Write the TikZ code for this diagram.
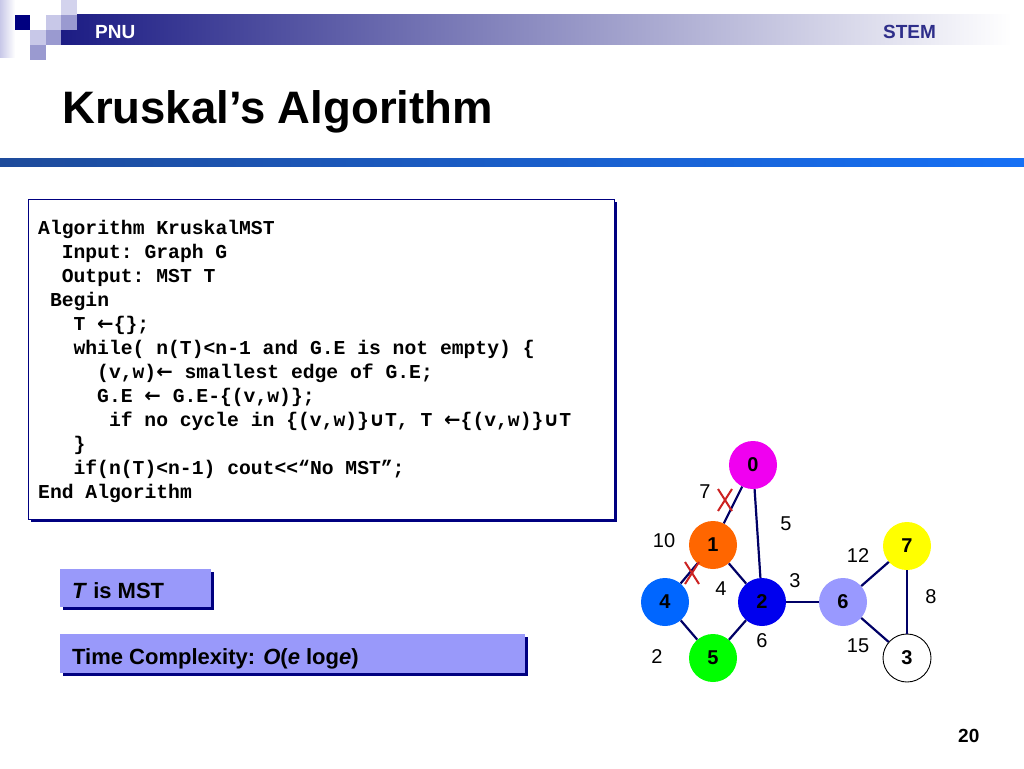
\documentclass[tikz,border=0pt]{standalone}
\usepackage{fontspec}
\setmainfont{Liberation Sans}
\setmonofont{Liberation Mono}
\newfontfamily\symf{DejaVu Sans}
\definecolor{navy}{RGB}{0,0,128}
\definecolor{hdrnavy}{RGB}{28,28,132}
\definecolor{stemc}{RGB}{46,46,138}
\definecolor{lavA}{RGB}{200,200,232}
\definecolor{lavB}{RGB}{154,154,208}
\definecolor{boxfill}{RGB}{153,153,250}
\definecolor{edgec}{RGB}{0,0,102}
\definecolor{xred}{RGB}{204,34,34}
\definecolor{lineL}{RGB}{30,75,155}
\definecolor{lineR}{RGB}{22,112,245}
\definecolor{nzero}{RGB}{240,0,240}
\definecolor{nodeone}{RGB}{255,102,0}
\definecolor{ntwo}{RGB}{0,0,238}
\definecolor{nfour}{RGB}{0,102,255}
\definecolor{nfive}{RGB}{0,255,0}
\definecolor{nsix}{RGB}{153,153,255}
\definecolor{nseven}{RGB}{255,255,0}
\newcommand{\la}{{\symf ←}}
\newcommand{\cupx}{{\symf ∪}}
\tikzset{
  codeline/.style={anchor=base west, inner sep=0pt, font=\fontsize{19.7}{24}\selectfont\ttfamily\bfseries},
  gnode/.style={circle, minimum size=48pt, inner sep=0pt, font=\fontsize{20}{24}\selectfont\bfseries},
  elabel/.style={inner sep=0pt, font=\fontsize{20}{24}\selectfont},
  gedge/.style={draw=edgec, line width=2.2pt},
  xmark/.style={draw=xred, line width=2pt},
  notebox/.style={fill=boxfill, draw=none},
  noteshadow/.style={fill=navy, draw=none},
  notetext/.style={anchor=base west, inner sep=0pt, font=\fontsize{22}{26}\selectfont\bfseries}
}
\begin{document}
\begin{tikzpicture}[x=1pt, y=-1pt]
\useasboundingbox (0,0) rectangle (1024,768);
\fill[white] (0,0) rectangle (1024,768);
% header
\shade[left color=lavA, right color=white] (0,0) rectangle (15,58);
\shade[left color=hdrnavy, right color=white] (61,15) rectangle (1012,45);
\fill[navy] (15,15) rectangle (30,30);
\fill[lavA] (46,15) rectangle (61,30);
\fill[lavA!80!white] (61,0) rectangle (77,15);
\fill[lavB] (61,15) rectangle (77,30);
\fill[lavA] (30,30) rectangle (46,45);
\fill[lavB] (46,30) rectangle (61,45);
\fill[lavB] (30,45) rectangle (46,60);
\node[anchor=base west, inner sep=0pt, text=white, font=\fontsize{19}{22}\selectfont\bfseries] (pnu) at (95,38) {PNU};
\node[anchor=base west, inner sep=0pt, text=stemc, font=\fontsize{19}{22}\selectfont\bfseries] (stem) at (883,38) {STEM};
\node[anchor=base west, inner sep=0pt, font=\fontsize{45.5}{54}\selectfont\bfseries] (title) at (62,123) {Kruskal’s Algorithm};
\shade[left color=lineL, right color=lineR] (0,158) rectangle (1024,166);
% code box
\fill[navy] (31,202) rectangle (617,522);
\filldraw[fill=white, draw=navy, line width=0.8pt] (28,199) rectangle (614,519);
\node[codeline] (c1) at (38,234) {Algorithm KruskalMST};
\node[codeline] (c2) at (61.6,258) {Input: Graph G};
\node[codeline] (c3) at (61.6,282) {Output: MST T};
\node[codeline] (c4) at (49.8,306) {Begin};
\node[codeline] (c5) at (73.4,330) {T \la\{\};};
\node[codeline] (c6) at (73.4,354) {while( n(T)<n-1 and G.E is not empty) \{};
\node[codeline] (c7) at (97,378) {(v,w)\la{} smallest edge of G.E;};
\node[codeline] (c8) at (97,402) {G.E \la{} G.E-\{(v,w)\};};
\node[codeline] (c9) at (108.8,426) {if no cycle in \{(v,w)\}\cupx T, T \la\{(v,w)\}\cupx T};
\node[codeline] (c10) at (73.4,450) {\}};
\node[codeline] (c11) at (73.4,474) {if(n(T)<n-1) cout<<“No MST”;};
\node[codeline] (c12) at (38,498) {End Algorithm};
% note boxes
\fill[noteshadow] (63,572) rectangle (214,610);
\fill[notebox] (60,569) rectangle (211,607);
\node[notetext] (tmst) at (72,598) {\textit{T} is MST};
\fill[noteshadow] (63,637) rectangle (528,676);
\fill[notebox] (60,634) rectangle (525,673);
\node[notetext] (tc) at (72,664) {Time Complexity: \textit{O}(\textit{e} log\textit{e})};
% graph
\node[gnode, fill=nzero] (n0) at (753,465) {0};
\node[gnode, fill=nodeone] (n1) at (713,545) {1};
\node[gnode, fill=nfour] (n4) at (665,602) {4};
\node[gnode, fill=ntwo] (n2) at (762,602) {2};
\node[gnode, fill=nfive] (n5) at (713,658) {5};
\node[gnode, fill=nsix] (n6) at (843,602) {6};
\node[gnode, fill=nseven] (n7) at (907,546) {7};
\node[gnode, draw=black, line width=0.9pt, fill=white] (n3) at (907,658) {3};
\draw[gedge] (n0) -- (n1);
\draw[gedge] (n0) -- (n2);
\draw[gedge] (n1) -- (n2);
\draw[gedge] (n1) -- (n4);
\draw[gedge] (n4) -- (n5);
\draw[gedge] (n5) -- (n2);
\draw[gedge] (n2) -- (n6);
\draw[gedge] (n6) -- (n7);
\draw[gedge] (n6) -- (n3);
\draw[gedge] (n7) -- (n3);
\coordinate (xa) at (725,500);
\coordinate (xb) at (692,573);
\draw[xmark] ([shift={(-7,-11)}]xa) -- ([shift={(7,11)}]xa);
\draw[xmark] ([shift={(7,-11)}]xa) -- ([shift={(-7,11)}]xa);
\draw[xmark] ([shift={(-7,-11)}]xb) -- ([shift={(7,11)}]xb);
\draw[xmark] ([shift={(7,-11)}]xb) -- ([shift={(-7,11)}]xb);
\node[elabel] (w7) at (705,492) {7};
\node[elabel] (w5) at (786,524) {5};
\node[elabel] (w10) at (664,541) {10};
\node[elabel] (w12) at (858,556) {12};
\node[elabel] (w4) at (721,589) {4};
\node[elabel] (w3) at (795,581) {3};
\node[elabel] (w8) at (931,597) {8};
\node[elabel] (w6) at (762,641) {6};
\node[elabel] (w15) at (858,646) {15};
\node[elabel] (w2) at (657,657) {2};
\node[anchor=base west, inner sep=0pt, font=\fontsize{19}{22}\selectfont\bfseries] (pg) at (958,742) {20};
\end{tikzpicture}
\end{document}
